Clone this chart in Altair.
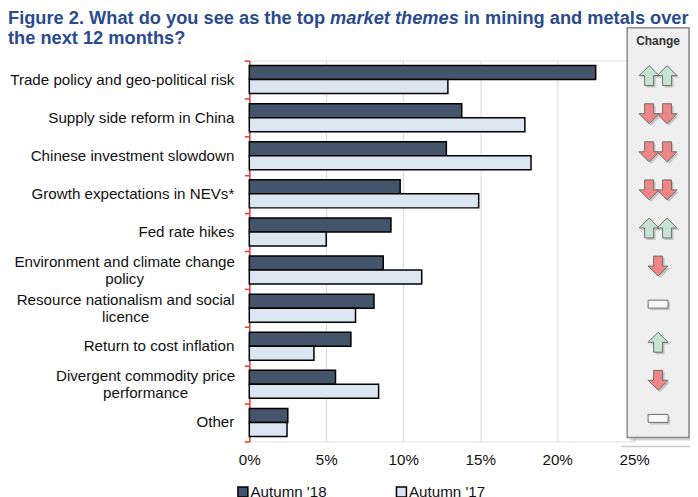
import altair as alt
import pandas as pd

# ---------------- data ----------------
categories = [
    "Trade policy and geo-political risk",
    "Supply side reform in China",
    "Chinese investment slowdown",
    "Growth expectations in NEVs*",
    "Fed rate hikes",
    "Environment and climate change\npolicy",
    "Resource nationalism and social\nlicence",
    "Return to cost inflation",
    "Divergent commodity price\nperformance",
    "Other",
]
autumn_18 = [22.5, 13.8, 12.8, 9.8, 9.2, 8.7, 8.1, 6.6, 5.6, 2.5]
autumn_17 = [12.9, 17.9, 18.3, 14.9, 5.0, 11.2, 6.9, 4.2, 8.4, 2.45]
series = ["Autumn '18", "Autumn '17"]
changes = ["up2", "down2", "down2", "down2", "up2", "down1", "flat1", "up1", "down1", "flat1"]
x_ticks = [0, 5, 10, 15, 20, 25]

title_part1 = "Figure 2. What do you see as the top "
title_part2 = "market themes"
title_part3 = "in mining and metals over"
title_line2 = "the next 12 months?"
panel_title = "Change"

# ---------------- tables ----------------
rows = []
for c, a, b in zip(categories, autumn_18, autumn_17):
    rows.append({"category": c, "series": series[0], "value": a})
    rows.append({"category": c, "series": series[1], "value": b})
bars_df = pd.DataFrame(rows)

lab_df = pd.DataFrame({
    "category": categories,
    "line1": [c.split("\n")[0] for c in categories],
    "line2": [c.split("\n")[1] if "\n" in c else "" for c in categories],
    "wrapped": ["\n" in c for c in categories],
})

chg_df = pd.DataFrame({
    "category": categories,
    "dir": [c[:-1] for c in changes],
    "n": [int(c[-1]) for c in changes],
})
one = pd.DataFrame({"k": [0]})

FONT = "Liberation Sans"
LFS = 15.2
W, H = 386, 382

y_enc = alt.Y("category:N", sort=categories, title=None,
              scale=alt.Scale(paddingInner=0, paddingOuter=0))

bars = alt.Chart(bars_df).mark_bar(stroke="black", strokeWidth=1.5).encode(
    x=alt.X("value:Q", title=None,
            scale=alt.Scale(domain=[0, 25], nice=False),
            axis=alt.Axis(values=x_ticks, labelExpr="datum.value + '%'",
                          domain=False, ticks=False, grid=True,
                          gridColor="#d9d9d9", gridWidth=1, labelFlush=False,
                          labelFont=FONT, labelFontSize=LFS, labelColor="#111",
                          labelPadding=11)),
    y=alt.Y("category:N", sort=categories, title=None,
            scale=alt.Scale(paddingInner=0, paddingOuter=0),
            axis=alt.Axis(domainColor="#e03a3a", domainWidth=1.5,
                          tickColor="#e03a3a", tickWidth=1.5, tickSize=5,
                          tickBand="extent", grid=False, labels=False)),
    yOffset=alt.YOffset("series:N", sort=series,
                        scale=alt.Scale(paddingOuter=0.36, paddingInner=0)),
    color=alt.Color("series:N", sort=series, title=None,
                    scale=alt.Scale(domain=series, range=["#44546a", "#dce6f2"]),
                    legend=alt.Legend(orient="none", legendX=-14, legendY=425,
                                      direction="horizontal", symbolType="square",
                                      symbolSize=100, symbolStrokeColor="black",
                                      symbolStrokeWidth=1.5, labelFont=FONT,
                                      labelFontSize=LFS, labelColor="#111",
                                      labelOffset=0, columnPadding=66, padding=0)),
)

# ---------------- category labels ----------------
def lab(filter_expr, field, x, align, dy):
    return alt.Chart(lab_df).transform_filter(filter_expr).mark_text(
        font=FONT, fontSize=LFS, color="#111", align=align, baseline="middle",
        dy=dy).encode(x=alt.value(x), y=y_enc, text=alt.Text(f"{field}:N"))

label_layers = [lab("!datum.wrapped", "line1", -15, "right", 0)]
# wrapped labels: both lines centred on the middle of the (wider) first line
wrap_centre = {"Environment": -125, "Resource": -124, "Divergent": -104}
for word, cx in wrap_centre.items():
    f = f"datum.wrapped && indexof(datum.line1, '{word}') == 0"
    label_layers.append(lab(f, "line1", cx, "center", -8.5))
    label_layers.append(lab(f, "line2", cx, "center", 8.5))

# ---------------- change panel ----------------
panel_shadow = alt.Chart(one).mark_rect(fill="#9a9a9a", opacity=0.45).encode(
    x=alt.value(382), x2=alt.value(444), y=alt.value(-30), y2=alt.value(381))
panel = alt.Chart(one).mark_rect(fill="#efefef", stroke="#8a8a8a", strokeWidth=1.5).encode(
    x=alt.value(379), x2=alt.value(441), y=alt.value(-33), y2=alt.value(378))
panel_line = alt.Chart(one).mark_rule(color="#c8c8c8", strokeWidth=1.5).encode(
    x=alt.value(373), x2=alt.value(450), y=alt.value(387))
panel_text = alt.Chart(one).mark_text(font=FONT, fontSize=12, fontWeight="bold",
                                      color="#333").encode(
    x=alt.value(410), y=alt.value(-20), text=alt.value(panel_title))

UP = "M0,-1 L1,0 L0.45,0 L0.45,1 L-0.45,1 L-0.45,0 L-1,0 Z"
DOWN = "M0,1 L1,0 L0.45,0 L0.45,-1 L-0.45,-1 L-0.45,0 L-1,0 Z"
FLAT = "M-1,-0.4 L1,-0.4 L1,0.4 L-1,0.4 Z"
styles = {"up": (UP, "#c6e2d1"), "down": (DOWN, "#f08587"), "flat": (FLAT, "#f7f7f7")}

arrow_layers = []
for d, (shape, fill) in styles.items():
    for n, offs in [(1, [0]), (2, [-9, 9])]:
        for off in offs:
            base = alt.Chart(chg_df).transform_filter(
                f"datum.dir == '{d}' && datum.n == {n}")
            arrow_layers.append(base.mark_point(
                shape=shape, size=400, filled=True, fill="#777", opacity=0.35,
                strokeWidth=0, xOffset=off + 2, yOffset=-2).encode(
                x=alt.value(410), y=y_enc))
            arrow_layers.append(base.mark_point(
                shape=shape, size=400, filled=True, fill=fill, opacity=1,
                stroke="#6e6e6e", strokeWidth=1, xOffset=off, yOffset=-4).encode(
                x=alt.value(410), y=y_enc))

# ---------------- title ----------------
TF = "Liberation Sans"
TFS = 18.3
TC = "#2A4B8D"
def ttext(txt, x, y, style="normal"):
    return alt.Chart(one).mark_text(font=TF, fontSize=TFS, fontWeight="bold",
                                    fontStyle=style, color=TC, align="left",
                                    baseline="alphabetic").encode(
        x=alt.value(x), y=alt.value(y), text=alt.value(txt))

titles = [ttext(title_part1, -242, -37), ttext(title_part2, 81, -37, "italic"),
          ttext(title_part3, 215, -37), ttext(title_line2, -242, -17)]

chart = alt.layer(bars, *label_layers, panel_shadow, panel, panel_line, panel_text,
                  *arrow_layers, *titles).properties(
    width=W, height=H,
    autosize=alt.AutoSizeParams(type="none"),
    padding={"left": 242, "top": 52, "right": 56, "bottom": 55},
).configure_view(stroke=None).configure(background="white")

chart.save("out.html", embed_options={"renderer": "svg", "actions": False})
